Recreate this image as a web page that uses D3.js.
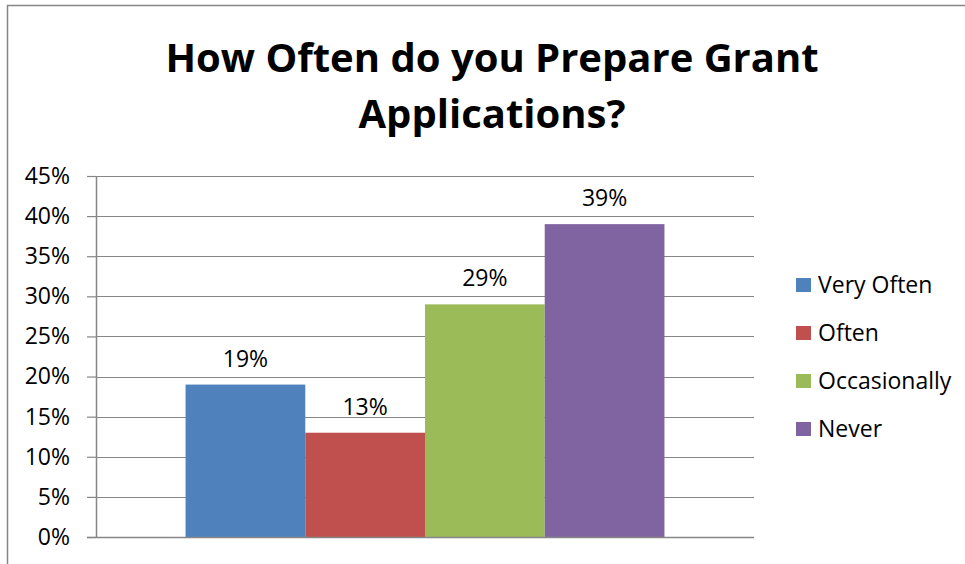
<!DOCTYPE html>
<html>
<head>
<meta charset="utf-8">
<script src="https://d3js.org/d3.v7.min.js"></script>
<style>
  body { margin: 0; background: #fff; }
  svg { display: block; font-family: "Open Sans", "Noto Sans", sans-serif; }
</style>
</head>
<body>
<svg id="drawing_region"></svg>
<script>
// chart data
const categories = ["Very Often", "Often", "Occasionally", "Never"];
const values = [19, 13, 29, 39];
const colors = ["#4F81BD", "#C0504D", "#9BBB59", "#8064A2"];
const yTicks = [0, 5, 10, 15, 20, 25, 30, 35, 40, 45];
const titleLines = ["How Often do you Prepare Grant", "Applications?"];

const config = {
    width: 965,
    height: 564,
    margin: {top: 176, right: 211, bottom: 27, left: 96}
};

const svg = d3.select('#drawing_region')
    .attr('width', config.width)
    .attr('height', config.height);

// outer chart border (right / bottom edges fall outside the picture)
svg.append('rect')
    .attr('x', 7.5).attr('y', 5.5)
    .attr('width', 1000).attr('height', 700)
    .attr('fill', 'none')
    .attr('stroke', '#868686')
    .attr('stroke-width', 1.5);

const inner_width = config.width - config.margin.left - config.margin.right;
const inner_height = config.height - config.margin.top - config.margin.bottom;

const chart = svg.append('g')
    .attr('transform', `translate(${config.margin.left}, ${config.margin.top})`);

const yscale = d3.scaleLinear()
    .domain([0, 45])
    .range([inner_height, 0]);

// one category group, gap width 150% of a bar on each side
const groupscale = d3.scaleBand()
    .domain(["all"])
    .range([0, inner_width])
    .paddingInner(0)
    .paddingOuter(0.187);

const xscale = d3.scaleBand()
    .domain(categories)
    .range([groupscale("all"), groupscale("all") + groupscale.bandwidth()])
    .padding(0);

// gridlines
chart.append('g')
    .selectAll('line')
    .data(yTicks)
    .join('line')
    .attr('x1', 0)
    .attr('x2', inner_width)
    .attr('y1', d => Math.round(yscale(d)) + 0.5)
    .attr('y2', d => Math.round(yscale(d)) + 0.5)
    .attr('stroke', '#868686')
    .attr('stroke-width', 1.2);

// y axis
const yaxis = d3.axisLeft(yscale)
    .tickValues(yTicks)
    .tickFormat(d => d + "%")
    .tickSize(9)
    .tickPadding(17)
    .tickSizeOuter(0);

const yaxis_group = chart.append('g').call(yaxis);
yaxis_group.select('.domain').attr('stroke', '#868686').attr('stroke-width', 1.5);
yaxis_group.selectAll('.tick line').attr('stroke', '#868686').attr('stroke-width', 1.2);
yaxis_group.selectAll('.tick text')
    .attr('font-size', '23px')
    .attr('font-family', '"Open Sans", sans-serif')
    .attr('fill', '#000');

// bars
chart.selectAll('rect.bar')
    .data(values)
    .join('rect')
    .attr('class', 'bar')
    .attr('x', (d, i) => xscale(categories[i]))
    .attr('y', d => yscale(d))
    .attr('width', xscale.bandwidth())
    .attr('height', d => inner_height - yscale(d))
    .attr('fill', (d, i) => colors[i]);

// value labels
chart.selectAll('text.label')
    .data(values)
    .join('text')
    .attr('class', 'label')
    .attr('x', (d, i) => xscale(categories[i]) + xscale.bandwidth() / 2)
    .attr('y', d => yscale(d) - 18)
    .attr('text-anchor', 'middle')
    .attr('font-size', '23px')
    .text(d => d + "%");

// x axis baseline
chart.append('line')
    .attr('x1', -9).attr('x2', inner_width)
    .attr('y1', inner_height + 0.5).attr('y2', inner_height + 0.5)
    .attr('stroke', '#868686')
    .attr('stroke-width', 1.5);

// title
svg.append('g')
    .selectAll('text')
    .data(titleLines)
    .join('text')
    .attr('x', 492)
    .attr('y', (d, i) => 72 + i * 56)
    .attr('text-anchor', 'middle')
    .attr('font-weight', 'bold')
    .attr('font-size', '40px')
    .text(d => d);

// legend
const legend = svg.append('g')
    .attr('transform', 'translate(796, 285)');

const items = legend.selectAll('g')
    .data(categories)
    .join('g')
    .attr('transform', (d, i) => `translate(0, ${i * 48})`);

items.append('rect')
    .attr('x', 0).attr('y', -7)
    .attr('width', 15).attr('height', 14)
    .attr('fill', (d, i) => colors[i]);

items.append('text')
    .attr('x', 22)
    .attr('y', 0)
    .attr('dy', '0.35em')
    .attr('font-size', '23px')
    .text(d => d);
</script>
</body>
</html>
